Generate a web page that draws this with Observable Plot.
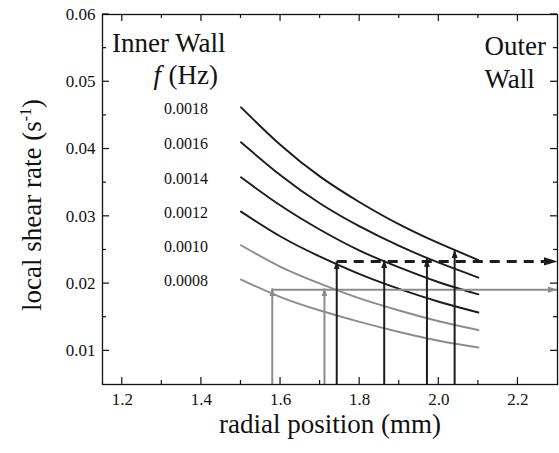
<!DOCTYPE html>
<html>
<head>
<meta charset="utf-8">
<script src="https://cdn.jsdelivr.net/npm/d3@7"></script>
<script src="https://cdn.jsdelivr.net/npm/@observablehq/plot@0.6"></script>
<style>
  body { margin: 0; background: #fff; }
  #chart svg text { font-family: 'Liberation Serif', 'Times New Roman', Times, serif; }
  #chart svg g[aria-label^="x-axis"] text,
  #chart svg g[aria-label^="y-axis"] text { font-size: 17px; fill: #111; }
</style>
</head>
<body>
<div id="chart"></div>
<script>
// Radial positions (mm) where each shear-rate curve is sampled
const radius = [1.5, 1.6, 1.7, 1.8, 1.9, 2.0, 2.1];

// Oscillation frequencies (Hz), one curve each
const frequencies = ["0.0018", "0.0016", "0.0014", "0.0012", "0.0010", "0.0008"];

// Local shear rate (1/s) along the radius for each frequency
const rateF18 = [0.0462, 0.0406, 0.0359, 0.0321, 0.0288, 0.0260, 0.0235];
const rateF16 = [0.0410, 0.0361, 0.0319, 0.0285, 0.0256, 0.0231, 0.0209];
const rateF14 = [0.0358, 0.0316, 0.0280, 0.0249, 0.0224, 0.0202, 0.0184];
const rateF12 = [0.0307, 0.0270, 0.0240, 0.0214, 0.0192, 0.0173, 0.0157];
const rateF10 = [0.0257, 0.0225, 0.0200, 0.0178, 0.0160, 0.0144, 0.0131];
const rateF08 = [0.0206, 0.0180, 0.0160, 0.0143, 0.0128, 0.0115, 0.0105];
const rates = [rateF18, rateF16, rateF14, rateF12, rateF10, rateF08];
const tone = ["dark", "dark", "dark", "dark", "light", "light"];

// Positions where each frequency reaches the target shear rate
const darkArrowX = [1.742, 1.862, 1.970, 2.040];
const darkArrowTip = [0.0233, 0.0235, 0.0237, 0.0250];
const darkLevel = 0.0233;
const lightArrowX = [1.579, 1.711];
const lightArrowTip = [0.0193, 0.0193];
const lightLevel = 0.0191;

// Axis ticks
const xDomain = [1.15, 2.3];
const yDomain = [0.005, 0.06];
const xMajorTicks = [1.2, 1.4, 1.6, 1.8, 2.0, 2.2];
const xMinorTicks = [1.3, 1.5, 1.7, 1.9, 2.1];
const yMajorTicks = [0.01, 0.02, 0.03, 0.04, 0.05, 0.06];
const yMinorTicks = [0.015, 0.025, 0.035, 0.045, 0.055];

const DARK = "#1c1c1c";
const LIGHT = "#8c8c8c";
const SERIF = "'Liberation Serif', 'Times New Roman', Times, serif";

const curveRows = frequencies.flatMap((f, k) =>
  radius.map((r, i) => ({f, r, rate: rates[k][i], tone: tone[k]}))
);
const labelRows = frequencies.map((f, k) => ({f, r: radius[0], rate: rates[k][0]}));

const darkArrows = darkArrowX.map((x, i) => ({x, tip: darkArrowTip[i]}));
const lightArrows = lightArrowX.map((x, i) => ({x, tip: lightArrowTip[i]}));

const chart = Plot.plot({
  width: 559,
  height: 453,
  marginLeft: 102,
  marginRight: 2,
  marginTop: 14,
  marginBottom: 69,
  style: {fontFamily: SERIF, fontSize: "17px", background: "#fff", color: "#111"},
  x: {domain: xDomain, ticks: xMajorTicks, tickFormat: d3.format(".1f"), tickSize: 0, tickPadding: 8, label: null},
  y: {domain: yDomain, ticks: yMajorTicks, tickFormat: d3.format(".2f"), tickSize: 0, tickPadding: 7, label: null},
  marks: [
    // shear-rate curves
    Plot.line(curveRows.filter(d => d.tone === "light"), {x: "r", y: "rate", z: "f", stroke: LIGHT, strokeWidth: 1.9, curve: "natural"}),
    Plot.line(curveRows.filter(d => d.tone === "dark"), {x: "r", y: "rate", z: "f", stroke: DARK, strokeWidth: 1.9, curve: "natural"}),
    // frequency labels beside each curve
    Plot.text(labelRows, {x: "r", y: "rate", text: "f", dx: -55, dy: 1.5, fontSize: 16, textAnchor: "middle", fill: "#111"}),
    // light target level and arrows
    Plot.link([lightArrowX[0]], {x1: d => d, x2: () => xDomain[1], y1: () => lightLevel, y2: () => lightLevel, stroke: LIGHT, strokeWidth: 2}),
    Plot.link(lightArrows, {x1: "x", x2: "x", y1: () => yDomain[0], y2: "tip", stroke: LIGHT, strokeWidth: 2}),
    // dark target level and arrows
    Plot.link(darkArrows, {x1: "x", x2: "x", y1: () => yDomain[0], y2: "tip", stroke: DARK, strokeWidth: 2}),
    Plot.link([darkArrowX[0]], {x1: d => d, x2: () => xDomain[1], y1: () => darkLevel, y2: () => darkLevel, stroke: DARK, strokeWidth: 3, strokeDasharray: "10,7"}),
    // annotations
    Plot.text(["Inner Wall"], {frameAnchor: "top-left", text: d => d, textAnchor: "start", lineAnchor: "top", dx: 9.5, dy: 18.5, fontSize: 27, fill: "#111"}),
    Plot.text(["f"], {frameAnchor: "top-left", text: d => d, textAnchor: "start", lineAnchor: "top", dx: 51, dy: 50, fontSize: 27, fontStyle: "italic", fill: "#111"}),
    Plot.text(["(Hz)"], {frameAnchor: "top-left", text: d => d, textAnchor: "start", lineAnchor: "top", dx: 66, dy: 50, fontSize: 27, fill: "#111"}),
    Plot.text(["Outer\nWall"], {frameAnchor: "top-right", text: d => d, textAnchor: "start", lineAnchor: "top", dx: -73, dy: 17, lineHeight: 1.22, fontSize: 27, fill: "#111"}),
    Plot.text(["radial position (mm)"], {frameAnchor: "bottom", text: d => d, textAnchor: "middle", lineAnchor: "top", dy: 29, fontSize: 27, fill: "#111"}),
    Plot.frame({stroke: "#111", strokeWidth: 1.3})
  ]
});

const svg = d3.select(chart);

// Filled arrowheads for the arrow links (the four link marks, in order)
const defs = svg.append("defs");
function head(id, color, len, half) {
  defs.append("marker")
    .attr("id", id)
    .attr("markerUnits", "userSpaceOnUse")
    .attr("viewBox", `0 ${-half} ${len} ${2 * half}`)
    .attr("refX", len)
    .attr("refY", 0)
    .attr("markerWidth", len)
    .attr("markerHeight", 2 * half)
    .attr("orient", "auto")
    .append("path")
    .attr("d", `M0,${-half}L${len},0L0,${half}Z`)
    .attr("fill", color)
    .attr("stroke", "none");
}
head("head-light-h", LIGHT, 10, 3.2);
head("head-light-v", LIGHT, 8, 3);
head("head-dark-v", DARK, 8, 3);
head("head-dark-h", DARK, 14, 4.2);

const linkGroups = svg.selectAll('g[aria-label="link"]').nodes();
const headIds = ["head-light-h", "head-light-v", "head-dark-v", "head-dark-h"];
headIds.forEach((id, i) => {
  if (linkGroups[i]) d3.select(linkGroups[i]).selectAll("path").attr("marker-end", `url(#${id})`);
});

// Inward ticks on all four sides, placed with the chart's own scales
const sx = chart.scale("x");
const sy = chart.scale("y");
const px = sx.apply ? v => sx.apply(v) : d3.scaleLinear(sx.domain, sx.range);
const py = sy.apply ? v => sy.apply(v) : d3.scaleLinear(sy.domain, sy.range);
const frameLeft = px(xDomain[0]), frameRight = px(xDomain[1]);
const frameBottom = py(yDomain[0]), frameTop = py(yDomain[1]);
const tickGroup = svg.append("g").attr("stroke", "#111").attr("stroke-width", 1.2);
function addTicksX(values, len) {
  values.forEach(v => {
    const x = px(v);
    tickGroup.append("line").attr("x1", x).attr("x2", x).attr("y1", frameBottom).attr("y2", frameBottom - len);
    tickGroup.append("line").attr("x1", x).attr("x2", x).attr("y1", frameTop).attr("y2", frameTop + len);
  });
}
function addTicksY(values, len) {
  values.forEach(v => {
    const y = py(v);
    tickGroup.append("line").attr("y1", y).attr("y2", y).attr("x1", frameLeft).attr("x2", frameLeft + len);
    tickGroup.append("line").attr("y1", y).attr("y2", y).attr("x1", frameRight).attr("x2", frameRight - len);
  });
}
addTicksX(xMajorTicks, 7);
addTicksX(xMinorTicks, 4);
addTicksY(yMajorTicks, 7);
addTicksY(yMinorTicks, 4);

// Y-axis title with superscript unit
const yTitle = svg.append("text")
  .attr("transform", "translate(41,205) rotate(-90)")
  .attr("text-anchor", "middle")
  .attr("font-family", SERIF)
  .attr("font-size", 27)
  .attr("fill", "#111");
yTitle.append("tspan").text("local shear rate (s");
yTitle.append("tspan").attr("dy", -10).attr("font-size", 16).text("-1");
yTitle.append("tspan").attr("dy", 10).text(")");

document.getElementById("chart").append(chart);
</script>
</body>
</html>
